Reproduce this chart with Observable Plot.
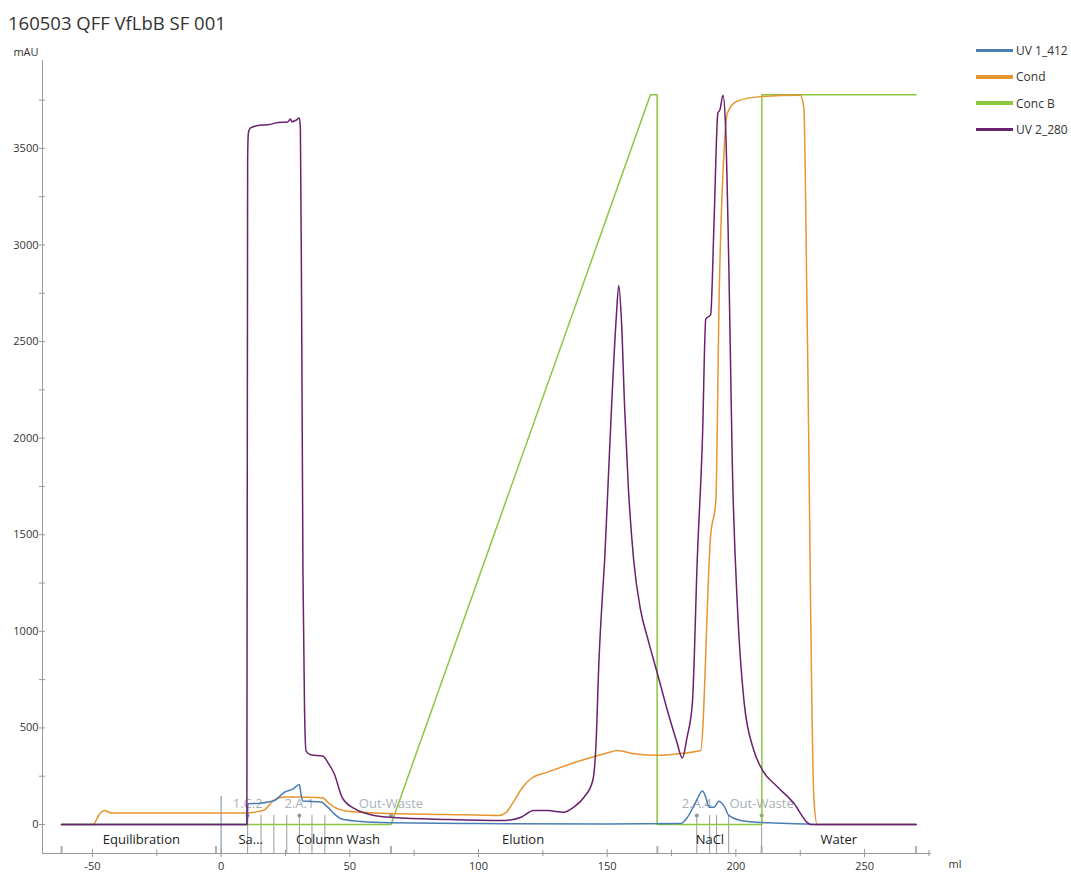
<!DOCTYPE html>
<html><head><meta charset="utf-8">
<script src="https://cdn.jsdelivr.net/npm/d3@7"></script>
<script src="https://cdn.jsdelivr.net/npm/@observablehq/plot@0.6"></script>
<style>
body{margin:0;background:#fff;font-family:"Open Sans",sans-serif;}
#wrap{position:relative;width:1071px;height:873px;overflow:hidden;background:#fff;}
#title{position:absolute;left:8px;top:13.6px;font-size:18.5px;line-height:1;color:#333;white-space:nowrap;}
#chart{position:absolute;left:0;top:38px;}
#legend{position:absolute;left:976px;top:37.6px;font-size:12px;color:#333;}
.li{display:flex;align-items:center;height:26.2px;white-space:nowrap;}
.sw{width:37px;height:3.5px;margin-right:3px;}
</style></head><body>
<div id="wrap"><div id="title">160503 QFF VfLbB SF 001</div><div id="chart"></div><div id="legend"></div></div>
<script>
// ---- data (ml vs value) ----
const uv412Ml = [-62, 10.2, 10.4, 15, 20.7, 24.6, 28, 30.4, 31, 31.7, 38.8, 41.4, 44, 46.6, 53, 66, 100, 150, 178.6, 181.2, 184.4, 187, 188.3, 189.6, 191.5, 193.4, 195.3, 197.3, 201.9, 208, 214.8, 227.8, 232, 270];
const uv412   = [0, 0, 107, 110, 124, 167, 185, 207, 160, 122, 116, 90, 55, 30, 17, 9, 5, 3, 5, 38, 116, 173, 141, 90, 90, 121, 98, 47, 21, 12, 8, 3, 0, 0];

const condMl = [-62, -49.8, -47.2, -45.3, -42.7, 10.4, 13, 16.8, 20.7, 24.6, 30, 37, 39.5, 41.5, 43.9, 49.2, 62, 88, 108, 110.5, 113.9, 117, 120.3, 126.8, 139.8, 150, 154, 160.4, 170, 178.6, 186.3, 190.2, 192.2, 193.5, 195.4, 196.7, 200.6, 209.6, 225, 226.4, 227.7, 230.3, 231.6, 270];
const cond   = [0, 0, 55, 72, 60, 60, 64, 76, 128, 142, 142, 140, 138, 115, 90, 69, 59, 52, 47, 60, 124, 190, 237, 271, 331, 370, 383, 366, 358, 368, 383, 1499, 1672, 2739, 3485, 3683, 3745, 3768, 3775, 3708, 2616, 135, 0, 0];

const concBMl = [-62, 66, 166.8, 169.4, 169.4, 210.1, 210.1, 270];
const concB   = [0, 0, 3778, 3778, 0, 0, 3778, 3778];

const uv280Ml = [-62, 10.0, 10.3, 10.6, 11.2, 12.5, 15, 18.3, 22, 25.9, 26.9, 27.5, 29, 30.4, 30.8, 31.3, 31.8, 32.4, 33, 35, 39.5, 41.5, 43.9, 47.2, 51.7, 59.4, 67, 88, 108.7, 113, 116.5, 121.5, 127, 133, 137, 141, 144.4, 145.6, 146.8, 148.2, 149, 150.3, 152, 153.5, 154.5, 155.5, 156.8, 158.2, 160.3, 163, 165.6, 169.5, 173.4, 177, 179.2, 181, 183.1, 185, 187, 188.3, 190.2, 191.5, 193, 193.8, 195, 196, 197.3, 198.6, 200.6, 203.2, 207, 210.3, 216, 222.6, 227.8, 229, 270];
const uv280   = [0, 0, 3450, 3580, 3603, 3612, 3620, 3622, 3634, 3637, 3652, 3638, 3645, 3657, 3600, 2600, 1300, 600, 380, 360, 355, 320, 264, 135, 83, 47, 36, 26, 21, 25, 38, 72, 72, 64, 90, 141, 228, 400, 849, 1196, 1367, 1750, 2250, 2620, 2790, 2620, 2150, 1750, 1367, 1108, 970, 782, 590, 430, 344, 450, 630, 1374, 1995, 2616, 2640, 3112, 3683, 3700, 3775, 3609, 2864, 1869, 1126, 632, 383, 282, 197, 109, 10, 0, 0];

const seriesNames  = ["UV 1_412", "Cond", "Conc B", "UV 2_280"];
const seriesColors = ["#4a7db3", "#e8942f", "#8cc640", "#6a216e"];

const xTicks = [-50, 0, 50, 100, 150, 200, 250];
const xMinor = [-25, 25, 75, 125, 175, 225, 275];
const yTicks = [0, 500, 1000, 1500, 2000, 2500, 3000, 3500];
const yMinor = [250, 750, 1250, 1750, 2250, 2750, 3250, 3750];

const phaseNames   = ["Equilibration", "Sa...", "Column Wash", "Elution", "NaCl", "Water"];
const phaseCenters = [-31, 11.5, 45.4, 117.3, 189.9, 240];
const phaseMarks   = [-62, -2, 66, 169.5, 210, 270];
const eventNames = ["1.C.2", "2.A.1", "Out-Waste", "2.A.4", "Out-Waste"];
const eventMl    = [10.3, 30.4, 66, 184.8, 210];
const fractionMl = [10.3, 15.5, 20.5, 25.5, 30.4, 35.3, 40.3, 184.8, 189.8, 192.5, 197.2, 210];

// ---- build ----
const mk = (xs, ys) => xs.map((x, i) => ({x, y: ys[i]}));
const series = [mk(uv412Ml, uv412), mk(condMl, cond), mk(concBMl, concB), mk(uv280Ml, uv280)];
const curves = ["monotone-x", "monotone-x", "linear", "monotone-x"];
const phases = phaseNames.map((n, i) => ({n, x: phaseCenters[i]}));
const events = eventNames.map((n, i) => ({n, x: eventMl[i]}));

const X0 = -69.4, Y0 = -150;
const drawOrder = [2, 1, 0, 3];

const chart = Plot.plot({
  width: 1071, height: 835,
  marginLeft: 42, marginRight: 140, marginTop: 22, marginBottom: 20,
  style: {fontFamily: "'Open Sans', sans-serif", fontSize: "11px", background: "#fff"},
  x: {domain: [X0, 276]},
  y: {domain: [Y0, 3955]},
  marks: [
    // annotations
    Plot.ruleX([0], {y1: 145, y2: Y0, stroke: "#8a9db5", strokeWidth: 1.2}),
    Plot.ruleX(fractionMl, {y1: 47, y2: Y0, stroke: "#9a9a9a", strokeWidth: 1}),
    Plot.ruleX(phaseMarks, {y1: -114, y2: Y0, stroke: "#b0b0b0", strokeWidth: 2}),
    Plot.dot(events, {x: "x", y: 47, r: 2, fill: "#8d9aaa"}),
    Plot.text(events, {x: "x", y: 109, text: "n", fill: "#aab0b6", fontSize: 13}),
    Plot.text(phases, {x: "x", y: -80, text: "n", fill: "#222", fontSize: 13}),
    // series
    ...drawOrder.map(i => Plot.line(series[i], {x: "x", y: "y", stroke: seriesColors[i], strokeWidth: 1.5, curve: curves[i]})),
    // axes
    Plot.ruleY([Y0], {stroke: "#999"}),
    Plot.ruleX([X0], {stroke: "#999"}),
    Plot.ruleX(xTicks, {x: d => d, y1: Y0 - 20.7, y2: Y0 + 20.7, stroke: "#999"}),
    Plot.ruleX(xMinor, {x: d => d, y1: Y0 - 15.5, y2: Y0 + 15.5, stroke: "#999"}),
    Plot.ruleY(yTicks, {y: d => d, x1: X0 - 1.2, x2: X0 + 1.2, stroke: "#999"}),
    Plot.ruleY(yMinor, {y: d => d, x1: X0 - 1.2, x2: X0 + 1.2, stroke: "#999"}),
    Plot.axisX({ticks: xTicks, tickSize: 0, tickPadding: 9, tickFormat: d => String(d), fill: "#333", fontSize: 11, label: null}),
    Plot.axisY({ticks: yTicks, tickSize: 0, tickPadding: 4, tickFormat: d => String(d), fill: "#333", fontSize: 11, label: null}),
    Plot.text(["mAU"], {frameAnchor: "top-left", textAnchor: "middle", lineAnchor: "middle", dx: -16.5, dy: -8.5, fill: "#333", fontSize: 11}),
    Plot.text(["ml"], {frameAnchor: "bottom-right", textAnchor: "middle", lineAnchor: "middle", dx: 23.5, dy: 10.5, fill: "#333", fontSize: 11})
  ]
});
document.getElementById("chart").appendChild(chart);

const lg = document.getElementById("legend");
seriesNames.forEach((n, i) => {
  const row = document.createElement("div");
  row.className = "li";
  const sw = document.createElement("div");
  sw.className = "sw";
  sw.style.background = seriesColors[i];
  const t = document.createElement("span");
  t.textContent = n;
  row.appendChild(sw); row.appendChild(t);
  lg.appendChild(row);
});
</script>
</body></html>
